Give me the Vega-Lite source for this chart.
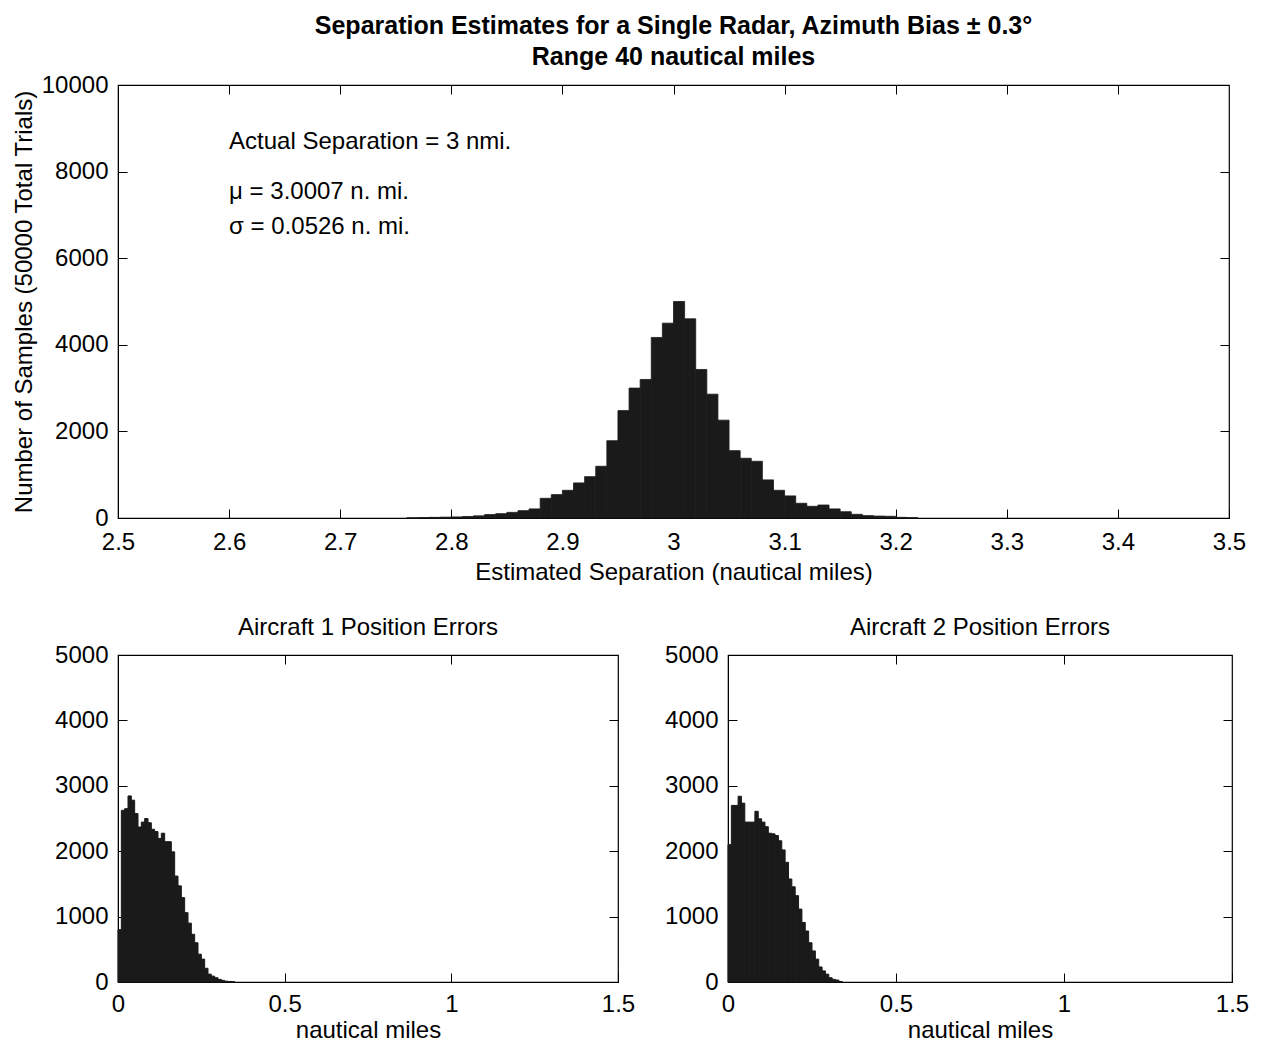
{
  "$schema": "https://vega.github.io/schema/vega-lite/v6.json",
  "background": "white",
  "padding": {"top": 13, "left": 11, "right": 10, "bottom": 2},
  "spacing": 30,
  "config": {
    "font": "Liberation Sans",
    "view": {"stroke": "black", "strokeWidth": 1.2},
    "axis": {
      "grid": false,
      "domainColor": "black",
      "tickColor": "black",
      "labelColor": "black",
      "titleColor": "black",
      "labelFont": "Liberation Sans",
      "titleFont": "Liberation Sans",
      "labelFontSize": 24,
      "titleFontSize": 24,
      "titleFontWeight": "normal",
      "tickSize": -9,
      "labelFlush": false,
      "labelOverlap": false
    },
    "axisX": {"labelPadding": 21, "titlePadding": 6},
    "axisY": {"labelPadding": 19, "titlePadding": 5},
    "title": {"font": "Liberation Sans", "color": "black"}
  },
  "datasets": {
    "sep": [
      {"lo": 2.76, "hi": 2.77, "count": 5},
      {"lo": 2.77, "hi": 2.78, "count": 10},
      {"lo": 2.78, "hi": 2.79, "count": 15},
      {"lo": 2.79, "hi": 2.80, "count": 20},
      {"lo": 2.80, "hi": 2.81, "count": 25},
      {"lo": 2.81, "hi": 2.82, "count": 35},
      {"lo": 2.82, "hi": 2.83, "count": 50},
      {"lo": 2.83, "hi": 2.84, "count": 80},
      {"lo": 2.84, "hi": 2.85, "count": 100},
      {"lo": 2.85, "hi": 2.86, "count": 130},
      {"lo": 2.86, "hi": 2.87, "count": 170},
      {"lo": 2.87, "hi": 2.88, "count": 210},
      {"lo": 2.88, "hi": 2.89, "count": 455},
      {"lo": 2.89, "hi": 2.90, "count": 540},
      {"lo": 2.90, "hi": 2.91, "count": 640},
      {"lo": 2.91, "hi": 2.92, "count": 810},
      {"lo": 2.92, "hi": 2.93, "count": 955},
      {"lo": 2.93, "hi": 2.94, "count": 1195},
      {"lo": 2.94, "hi": 2.95, "count": 1785},
      {"lo": 2.95, "hi": 2.96, "count": 2480},
      {"lo": 2.96, "hi": 2.97, "count": 3000},
      {"lo": 2.97, "hi": 2.98, "count": 3200},
      {"lo": 2.98, "hi": 2.99, "count": 4170},
      {"lo": 2.99, "hi": 3.00, "count": 4500},
      {"lo": 3.00, "hi": 3.01, "count": 5000},
      {"lo": 3.01, "hi": 3.02, "count": 4600},
      {"lo": 3.02, "hi": 3.03, "count": 3430},
      {"lo": 3.03, "hi": 3.04, "count": 2860},
      {"lo": 3.04, "hi": 3.05, "count": 2260},
      {"lo": 3.05, "hi": 3.06, "count": 1555},
      {"lo": 3.06, "hi": 3.07, "count": 1380},
      {"lo": 3.07, "hi": 3.08, "count": 1310},
      {"lo": 3.08, "hi": 3.09, "count": 880},
      {"lo": 3.09, "hi": 3.10, "count": 640},
      {"lo": 3.10, "hi": 3.11, "count": 510},
      {"lo": 3.11, "hi": 3.12, "count": 340},
      {"lo": 3.12, "hi": 3.13, "count": 270},
      {"lo": 3.13, "hi": 3.14, "count": 300},
      {"lo": 3.14, "hi": 3.15, "count": 210},
      {"lo": 3.15, "hi": 3.16, "count": 145},
      {"lo": 3.16, "hi": 3.17, "count": 85},
      {"lo": 3.17, "hi": 3.18, "count": 55},
      {"lo": 3.18, "hi": 3.19, "count": 45},
      {"lo": 3.19, "hi": 3.20, "count": 40},
      {"lo": 3.20, "hi": 3.21, "count": 15},
      {"lo": 3.21, "hi": 3.22, "count": 8}
    ],
    "ac1": [
      {"lo": 0.00, "hi": 0.01, "count": 800},
      {"lo": 0.01, "hi": 0.02, "count": 2625},
      {"lo": 0.02, "hi": 0.03, "count": 2650},
      {"lo": 0.03, "hi": 0.04, "count": 2845},
      {"lo": 0.04, "hi": 0.05, "count": 2780},
      {"lo": 0.05, "hi": 0.06, "count": 2575},
      {"lo": 0.06, "hi": 0.07, "count": 2370},
      {"lo": 0.07, "hi": 0.08, "count": 2445},
      {"lo": 0.08, "hi": 0.09, "count": 2500},
      {"lo": 0.09, "hi": 0.10, "count": 2435},
      {"lo": 0.10, "hi": 0.11, "count": 2335},
      {"lo": 0.11, "hi": 0.12, "count": 2300},
      {"lo": 0.12, "hi": 0.13, "count": 2195},
      {"lo": 0.13, "hi": 0.14, "count": 2275},
      {"lo": 0.14, "hi": 0.15, "count": 2145},
      {"lo": 0.15, "hi": 0.16, "count": 2145},
      {"lo": 0.16, "hi": 0.17, "count": 1990},
      {"lo": 0.17, "hi": 0.18, "count": 1620},
      {"lo": 0.18, "hi": 0.19, "count": 1470},
      {"lo": 0.19, "hi": 0.20, "count": 1290},
      {"lo": 0.20, "hi": 0.21, "count": 1060},
      {"lo": 0.21, "hi": 0.22, "count": 900},
      {"lo": 0.22, "hi": 0.23, "count": 730},
      {"lo": 0.23, "hi": 0.24, "count": 600},
      {"lo": 0.24, "hi": 0.25, "count": 425},
      {"lo": 0.25, "hi": 0.26, "count": 350},
      {"lo": 0.26, "hi": 0.27, "count": 210},
      {"lo": 0.27, "hi": 0.28, "count": 120},
      {"lo": 0.28, "hi": 0.29, "count": 90},
      {"lo": 0.29, "hi": 0.30, "count": 65},
      {"lo": 0.30, "hi": 0.31, "count": 40},
      {"lo": 0.31, "hi": 0.32, "count": 25},
      {"lo": 0.32, "hi": 0.33, "count": 12},
      {"lo": 0.33, "hi": 0.34, "count": 8},
      {"lo": 0.34, "hi": 0.35, "count": 5}
    ],
    "ac2": [
      {"lo": 0.00, "hi": 0.01, "count": 2100},
      {"lo": 0.01, "hi": 0.02, "count": 2700},
      {"lo": 0.02, "hi": 0.03, "count": 2700},
      {"lo": 0.03, "hi": 0.04, "count": 2840},
      {"lo": 0.04, "hi": 0.05, "count": 2735},
      {"lo": 0.05, "hi": 0.06, "count": 2445},
      {"lo": 0.06, "hi": 0.07, "count": 2445},
      {"lo": 0.07, "hi": 0.08, "count": 2445},
      {"lo": 0.08, "hi": 0.09, "count": 2610},
      {"lo": 0.09, "hi": 0.10, "count": 2495},
      {"lo": 0.10, "hi": 0.11, "count": 2445},
      {"lo": 0.11, "hi": 0.12, "count": 2375},
      {"lo": 0.12, "hi": 0.13, "count": 2275},
      {"lo": 0.13, "hi": 0.14, "count": 2265},
      {"lo": 0.14, "hi": 0.15, "count": 2240},
      {"lo": 0.15, "hi": 0.16, "count": 2160},
      {"lo": 0.16, "hi": 0.17, "count": 2020},
      {"lo": 0.17, "hi": 0.18, "count": 1830},
      {"lo": 0.18, "hi": 0.19, "count": 1575},
      {"lo": 0.19, "hi": 0.20, "count": 1455},
      {"lo": 0.20, "hi": 0.21, "count": 1320},
      {"lo": 0.21, "hi": 0.22, "count": 1115},
      {"lo": 0.22, "hi": 0.23, "count": 910},
      {"lo": 0.23, "hi": 0.24, "count": 780},
      {"lo": 0.24, "hi": 0.25, "count": 600},
      {"lo": 0.25, "hi": 0.26, "count": 475},
      {"lo": 0.26, "hi": 0.27, "count": 350},
      {"lo": 0.27, "hi": 0.28, "count": 230},
      {"lo": 0.28, "hi": 0.29, "count": 170},
      {"lo": 0.29, "hi": 0.30, "count": 120},
      {"lo": 0.30, "hi": 0.31, "count": 65},
      {"lo": 0.31, "hi": 0.32, "count": 40},
      {"lo": 0.32, "hi": 0.33, "count": 30},
      {"lo": 0.33, "hi": 0.34, "count": 8}
    ],
    "notes": [
      {"x": 2.6, "y": 8680, "label": "Actual Separation = 3 nmi."},
      {"x": 2.6, "y": 7530, "label": "μ = 3.0007 n. mi."},
      {"x": 2.6, "y": 6720, "label": "σ = 0.0526 n. mi."}
    ]
  },
  "vconcat": [
    {
      "width": 1111,
      "height": 433,
      "title": {
        "text": "Separation Estimates for a Single Radar, Azimuth Bias ± 0.3°",
        "subtitle": "Range 40 nautical miles",
        "fontSize": 25,
        "fontWeight": "bold",
        "subtitleFontSize": 25,
        "subtitleFontWeight": "bold",
        "subtitleColor": "black",
        "subtitlePadding": 6,
        "anchor": "middle",
        "offset": 3
      },
      "resolve": {"axis": {"x": "independent", "y": "independent"}},
      "layer": [
        {
          "data": {"name": "sep"},
          "mark": {"type": "bar", "color": "#1a1a1a", "stroke": "#1a1a1a", "strokeWidth": 0.8},
          "encoding": {
            "x": {"field": "lo", "type": "quantitative", "scale": {"domain": [2.5, 3.5], "nice": false, "zero": false},
                  "axis": {"title": "Estimated Separation (nautical miles)", "values": [2.5, 2.6, 2.7, 2.8, 2.9, 3.0, 3.1, 3.2, 3.3, 3.4, 3.5], "format": "~g"}},
            "x2": {"field": "hi"},
            "y": {"field": "count", "type": "quantitative", "scale": {"domain": [0, 10000], "nice": false},
                  "axis": {"title": "Number of Samples (50000 Total Trials)", "values": [0, 2000, 4000, 6000, 8000, 10000], "format": "d"}},
            "y2": {"datum": 0}
          }
        },
        {
          "data": {"name": "sep"},
          "mark": {"type": "point", "opacity": 0},
          "encoding": {
            "x": {"field": "lo", "type": "quantitative", "axis": {"orient": "top", "labels": false, "title": null, "values": [2.6, 2.7, 2.8, 2.9, 3.0, 3.1, 3.2, 3.3, 3.4], "domain": false}},
            "y": {"field": "count", "type": "quantitative", "axis": {"orient": "right", "labels": false, "title": null, "values": [2000, 4000, 6000, 8000], "domain": false}}
          }
        },
        {
          "data": {"name": "notes"},
          "mark": {"type": "text", "align": "left", "baseline": "middle", "fontSize": 24, "color": "black", "font": "Liberation Sans"},
          "encoding": {
            "x": {"field": "x", "type": "quantitative", "axis": null},
            "y": {"field": "y", "type": "quantitative", "axis": null},
            "text": {"field": "label"}
          }
        }
      ]
    },
    {
      "spacing": 28,
      "hconcat": [
        {
          "width": 500,
          "height": 327,
          "title": {"text": "Aircraft 1 Position Errors", "fontSize": 24, "fontWeight": "normal", "anchor": "middle", "offset": 3},
          "resolve": {"axis": {"x": "independent", "y": "independent"}},
          "layer": [
            {
              "data": {"name": "ac1"},
              "mark": {"type": "bar", "color": "#1a1a1a", "stroke": "#1a1a1a", "strokeWidth": 1},
              "encoding": {
                "x": {"field": "lo", "type": "quantitative", "scale": {"domain": [0, 1.5], "nice": false},
                      "axis": {"title": "nautical miles", "values": [0, 0.5, 1, 1.5], "format": "~g", "labelPadding": 19, "titlePadding": 2}},
                "x2": {"field": "hi"},
                "y": {"field": "count", "type": "quantitative", "scale": {"domain": [0, 5000], "nice": false},
                      "axis": {"title": null, "values": [0, 1000, 2000, 3000, 4000, 5000], "format": "d"}},
                "y2": {"datum": 0}
              }
            },
            {
              "data": {"name": "ac1"},
              "mark": {"type": "point", "opacity": 0},
              "encoding": {
                "x": {"field": "lo", "type": "quantitative", "axis": {"orient": "top", "labels": false, "title": null, "values": [0.5, 1], "domain": false}},
                "y": {"field": "count", "type": "quantitative", "axis": {"orient": "right", "labels": false, "title": null, "values": [1000, 2000, 3000, 4000], "domain": false}}
              }
            }
          ]
        },
        {
          "width": 504,
          "height": 327,
          "title": {"text": "Aircraft 2 Position Errors", "fontSize": 24, "fontWeight": "normal", "anchor": "middle", "offset": 3},
          "resolve": {"axis": {"x": "independent", "y": "independent"}},
          "layer": [
            {
              "data": {"name": "ac2"},
              "mark": {"type": "bar", "color": "#1a1a1a", "stroke": "#1a1a1a", "strokeWidth": 1},
              "encoding": {
                "x": {"field": "lo", "type": "quantitative", "scale": {"domain": [0, 1.5], "nice": false},
                      "axis": {"title": "nautical miles", "values": [0, 0.5, 1, 1.5], "format": "~g", "labelPadding": 19, "titlePadding": 2}},
                "x2": {"field": "hi"},
                "y": {"field": "count", "type": "quantitative", "scale": {"domain": [0, 5000], "nice": false},
                      "axis": {"title": null, "values": [0, 1000, 2000, 3000, 4000, 5000], "format": "d"}},
                "y2": {"datum": 0}
              }
            },
            {
              "data": {"name": "ac2"},
              "mark": {"type": "point", "opacity": 0},
              "encoding": {
                "x": {"field": "lo", "type": "quantitative", "axis": {"orient": "top", "labels": false, "title": null, "values": [0.5, 1], "domain": false}},
                "y": {"field": "count", "type": "quantitative", "axis": {"orient": "right", "labels": false, "title": null, "values": [1000, 2000, 3000, 4000], "domain": false}}
              }
            }
          ]
        }
      ]
    }
  ]
}
